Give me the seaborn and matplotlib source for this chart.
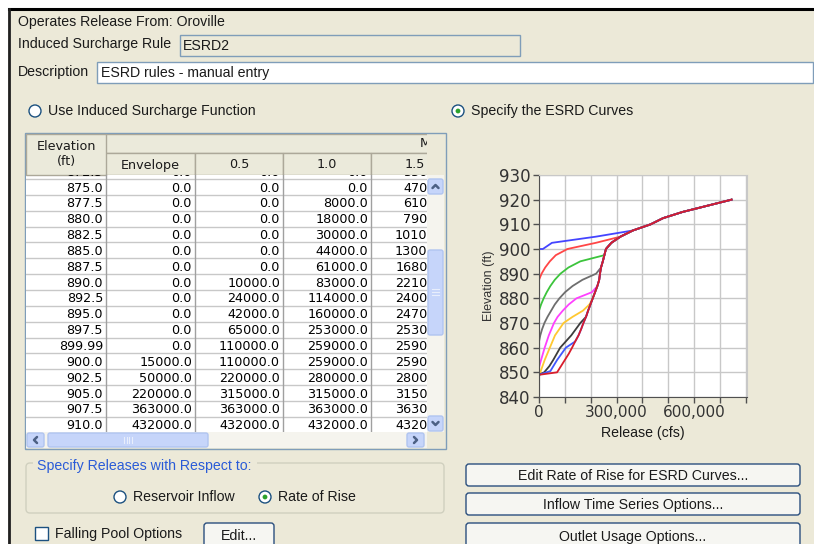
import numpy as np
import pandas as pd
import seaborn as sns
import matplotlib.pyplot as plt
import matplotlib.patches as mpatches
from matplotlib import font_manager

W, H = 814, 544
PANEL = '#ECE9D8'
INK = '#1a1a1a'

installed = {f.name for f in font_manager.fontManager.ttflist}
GUI_FONT = 'Liberation Sans' if 'Liberation Sans' in installed else 'DejaVu Sans'

# ---- ESRD curve data (elevation ft, release cfs) ----
# shared steep section that every curve ends up on
STEEP_ELEV = [850.0, 852.5, 855.0, 857.5, 860.0, 862.5, 865.0, 867.5, 870.0, 872.5,
              875.0, 877.5, 880.0, 882.5, 885.0, 887.5, 890.0, 892.5, 895.0, 897.5,
              899.99, 900.0, 902.5, 905.0, 907.5, 910.0, 912.5, 915.0, 917.5, 920.0]
STEEP_REL = [70000, 85000, 100000, 115000, 128000, 140000, 153000, 163000, 172000, 182000,
             190000, 199000, 208000, 217000, 226000, 233000, 236000, 240000, 247000, 253000,
             259000, 259000, 280000, 315000, 363000, 432000, 480000, 555000, 650000, 745000]

ENV_ELEV = [849.0, 899.99, 900.0, 902.5, 905.0]
ENV_REL = [0, 0, 15000, 50000, 220000]

R05_ELEV = [849.0, 887.5, 890.0, 892.5, 895.0, 897.5, 899.99, 900.0, 902.5]
R05_REL = [0, 0, 10000, 24000, 42000, 65000, 110000, 110000, 220000]

R10_ELEV = [849.0, 875.0, 877.5, 880.0, 882.5, 885.0, 887.5, 890.0, 892.5, 895.0]
R10_REL = [0, 0, 8000, 18000, 30000, 44000, 61000, 83000, 114000, 160000]

R15_ELEV = [849.0, 862.5, 865.0, 867.5, 870.0, 872.5, 875.0, 877.5, 880.0, 882.5, 885.0, 887.5, 890.0]
R15_REL = [0, 0, 5000, 12000, 21000, 33000, 47000, 61000, 79000, 101000, 130000, 168000, 221000]

R20_ELEV = [849.0, 852.0, 855.0, 860.0, 865.0, 870.0, 872.5, 875.0, 877.5, 880.0, 882.5]
R20_REL = [0, 0, 8000, 22000, 38000, 58000, 72000, 92000, 115000, 145000, 205000]

R25_ELEV = [849.0, 850.0, 855.0, 860.0, 865.0, 870.0, 872.5, 875.0, 877.5]
R25_REL = [0, 5000, 22000, 42000, 62000, 95000, 130000, 170000, 195000]

R30_ELEV = [849.0, 850.0, 852.5, 855.0, 860.0, 865.0, 870.0]
R30_REL = [0, 20000, 40000, 55000, 82000, 125000, 160000]

R35_ELEV = [849.0, 850.5, 855.0, 860.0]
R35_REL = [0, 44000, 70000, 104000]

R40_ELEV = [849.0]
R40_REL = [0]

CURVE_NAMES = ['Envelope', '0.5', '1.0', '1.5', '2.0', '2.5', '3.0', '3.5', '4.0']
CURVE_COLORS = ['#4444ff', '#ff4646', '#3cc43c', '#6e6e6e', '#ff40ff', '#ffc830',
                '#3c3c3c', '#4058ff', '#d81c2c']

# table rows shown in the scroll pane
TABLE_ELEV = [872.5, 875.0, 877.5, 880.0, 882.5, 885.0, 887.5, 890.0, 892.5, 895.0,
              897.5, 899.99, 900.0, 902.5, 905.0, 907.5, 910.0]


def full_curve(elev, rel):
    tail = [(s, v) for s, v in zip(STEEP_ELEV, STEEP_REL) if s > elev[-1]]
    return list(elev) + [t[0] for t in tail], list(rel) + [t[1] for t in tail]


own_parts = [(ENV_ELEV, ENV_REL), (R05_ELEV, R05_REL), (R10_ELEV, R10_REL),
             (R15_ELEV, R15_REL), (R20_ELEV, R20_REL), (R25_ELEV, R25_REL),
             (R30_ELEV, R30_REL), (R35_ELEV, R35_REL), (R40_ELEV, R40_REL)]
curves = [full_curve(e, r) for e, r in own_parts]

frames = []
for name, (e, r) in zip(CURVE_NAMES, curves):
    frames.append(pd.DataFrame({'release': r, 'elev': e, 'curve': name}))
df = pd.concat(frames, ignore_index=True)

# ---- figure ----
plt.rcParams['font.family'] = [GUI_FONT, 'DejaVu Sans']
fig = plt.figure(figsize=(W / 100, H / 100), dpi=100, facecolor=PANEL)

bg = fig.add_axes([0, 0, 1, 1])
bg.set_xlim(0, W)
bg.set_ylim(H, 0)
bg.axis('off')


def rect(x, y, w, h, fc, ec='none', lw=1.0, z=1):
    p = mpatches.Rectangle((x, y), w, h, fc=fc, ec=ec, lw=lw, zorder=z)
    bg.add_patch(p)
    return p


def label(x, y, s, size=10.2, color=INK, ha='left', family=None, clip=None, **kw):
    t = bg.text(x, y, s, fontsize=size, color=color, ha=ha, va='center',
                family=family or [GUI_FONT, 'DejaVu Sans'], **kw)
    if clip is not None:
        t.set_clip_on(True)
        t.set_clip_path(clip)
    return t


def button(x, y, w, h, s):
    bg.add_patch(mpatches.FancyBboxPatch((x, y), w, h, boxstyle='round,pad=0,rounding_size=3',
                                         fc='#F6F6F2', ec='#2B4F7E', lw=1.0, zorder=2))
    label(x + w / 2, y + h / 2 + 0.5, s, ha='center', zorder=3)


def radio(x, y, on=False):
    bg.add_patch(mpatches.Circle((x, y), 6, fc='white', ec='#1C5180', lw=1.0, zorder=2))
    if on:
        bg.add_patch(mpatches.Circle((x, y), 2.4, fc='#2BA12B', ec='none', zorder=3))


# window frame
rect(0, 0, W, 8, 'white')
rect(0, 0, 8, H, 'white')
bg.plot([9, W], [9, 9], color='black', lw=2.2, zorder=3)
bg.plot([9, 9], [9, H], color='#202020', lw=2.0, zorder=3)

# header fields
label(18, 22, 'Operates Release From: Oroville')
label(18, 44, 'Induced Surcharge Rule')
rect(180, 35, 340, 21, PANEL, ec='#7F9DB9')
label(183, 46, 'ESRD2')
label(18, 72, 'Description')
rect(97, 62, 716, 21, 'white', ec='#7F9DB9')
label(101, 73, 'ESRD rules - manual entry')

radio(35, 111)
label(48, 111, 'Use Induced Surcharge Function')
radio(458, 111, on=True)
label(471, 111, 'Specify the ESRD Curves')

# ---- table ----
TX0, TY0, TX1, TY1 = 25, 133, 446, 449
rect(TX0, TY0, TX1 - TX0, TY1 - TY0, PANEL, ec='#7F9DB9')
VIEW_TOP, VIEW_BOT, VIEW_R = 175, 432, 427
view = rect(26, VIEW_TOP, VIEW_R - 26, VIEW_BOT - VIEW_TOP, 'white')

col_edges = [26, 106, 195, 283, 371, 459]
hdr_fc = '#EBEADB'
hdr_ec = '#ACA899'
rect(26, 134, 80, 41, hdr_fc, ec=hdr_ec)
label(66, 146, 'Elevation', size=9.2, ha='center', family='DejaVu Sans')
label(66, 162, '(ft)', size=9.2, ha='center', family='DejaVu Sans')
hclip = rect(106, 134, VIEW_R - 106, 41, 'none')
top_hdr = rect(106, 134, 400, 19, hdr_fc, ec=hdr_ec)
top_hdr.set_clip_path(hclip)
label(420, 144, 'Maximum Rate of Rise (ft/day)', size=9.2, family='DejaVu Sans', clip=hclip)
for i, name in enumerate(CURVE_NAMES[:4]):
    x0, x1 = col_edges[i + 1], col_edges[i + 2]
    c = rect(x0, 153, x1 - x0, 22, hdr_fc, ec=hdr_ec)
    c.set_clip_path(hclip)
    label((x0 + x1) / 2, 165, name, size=9.2, ha='center', family='DejaVu Sans', clip=hclip)

ROW_H = 15.85
first_y = 187 - ROW_H
for k, el in enumerate(TABLE_ELEV):
    yc = first_y + k * ROW_H
    ln = bg.plot([26, VIEW_R], [yc + ROW_H / 2, yc + ROW_H / 2], color='#C8C8C8', lw=1.0, zorder=2)[0]
    ln.set_clip_path(view)
    cells = [str(el)] + [f'{np.interp(el, e, r):.1f}' for e, r in curves[:4]]
    for j, s in enumerate(cells):
        label(col_edges[j + 1] - 3, yc + 1, s, size=9.2, ha='right', family='DejaVu Sans',
              color='black', zorder=3, clip=view)
for xe in col_edges[1:5]:
    bg.plot([xe, xe], [VIEW_TOP, VIEW_BOT], color='#A0A0A0', lw=1.0, zorder=2)

# scroll bars
rect(VIEW_R, VIEW_TOP, 17, VIEW_BOT - VIEW_TOP, '#F5F4EE', z=3)


def sbtn(x, y, w, h):
    bg.add_patch(mpatches.FancyBboxPatch((x, y), w, h, boxstyle='round,pad=0,rounding_size=2',
                                         fc='#C6D5FA', ec='#B0C4F0', lw=1.0, zorder=4))


def chevron(cx, cy, direction):
    d = 3.0
    if direction == 'up':
        xs, ys = [cx - d, cx, cx + d], [cy + d / 2, cy - d / 2, cy + d / 2]
    elif direction == 'down':
        xs, ys = [cx - d, cx, cx + d], [cy - d / 2, cy + d / 2, cy - d / 2]
    elif direction == 'left':
        xs, ys = [cx + d / 2, cx - d / 2, cx + d / 2], [cy - d, cy, cy + d]
    else:
        xs, ys = [cx - d / 2, cx + d / 2, cx - d / 2], [cy - d, cy, cy + d]
    bg.plot(xs, ys, color='#4D6185', lw=1.8, solid_capstyle='round', zorder=5)


sbtn(VIEW_R + 1, 179, 15, 15)
chevron(VIEW_R + 8.5, 186.5, 'up')
sbtn(VIEW_R + 1, 416, 15, 15)
chevron(VIEW_R + 8.5, 423.5, 'down')
sbtn(VIEW_R + 1, 250, 15, 85)
for gy in (289, 292, 295):
    bg.plot([VIEW_R + 5, VIEW_R + 12], [gy, gy], color='#E8EEFC', lw=0.8, zorder=5)
rect(26, VIEW_BOT, VIEW_R - 26, 16, '#F5F4EE', z=3)
sbtn(27, VIEW_BOT + 1, 17, 14)
chevron(35.5, VIEW_BOT + 8, 'left')
sbtn(407, VIEW_BOT + 1, 17, 14)
chevron(415.5, VIEW_BOT + 8, 'right')
sbtn(48, VIEW_BOT + 1, 160, 14)
for gx in (124, 126.5, 129, 131.5):
    bg.plot([gx, gx], [VIEW_BOT + 5, VIEW_BOT + 11], color='#E8EEFC', lw=0.8, zorder=5)

# ---- bottom controls ----
bg.add_patch(mpatches.FancyBboxPatch((26, 463), 418, 50, boxstyle='round,pad=0,rounding_size=4',
                                     fc='none', ec='#D0D0BF', lw=1.0, zorder=2))
rect(33, 460, 224, 10, PANEL, z=2)
label(37, 466, 'Specify Releases with Respect to:', color='#2A5BD7', zorder=3)
radio(120, 497)
label(133, 497, 'Reservoir Inflow')
radio(265, 497, on=True)
label(278, 497, 'Rate of Rise')

rect(35, 527, 13, 13, 'white', ec='#1C5180', z=2)
label(55, 534, 'Falling Pool Options')
button(204, 523, 70, 26, 'Edit...')

button(466, 464, 334, 22, 'Edit Rate of Rise for ESRD Curves...')
button(466, 493, 334, 22, 'Inflow Time Series Options...')
button(466, 523, 334, 26, 'Outlet Usage Options...')

# ---- ESRD curve chart ----
ax = fig.add_axes([539 / W, 1 - 397 / H, 208 / W, 222 / H])
ax.set_facecolor('white')
sns.lineplot(data=df, x='release', y='elev', hue='curve', hue_order=CURVE_NAMES,
             palette=CURVE_COLORS, sort=False, estimator=None, legend=False,
             lw=1.3, ax=ax)

ax.set_xlim(0, 805000)
ax.set_ylim(840, 930)
xt = np.arange(0, 800001, 100000)
ax.set_xticks(xt)
ax.set_xticklabels([f'{v:,}' if v % 300000 == 0 else '' for v in xt],
                   fontsize=11, family='DejaVu Sans', color='#333333')
yt = np.arange(840, 931, 10)
ax.set_yticks(yt)
ax.set_yticklabels([str(v) for v in yt], fontsize=12, family='DejaVu Sans', color='#333333')
ax.grid(True, color='#C8C8C8', lw=1.0)
ax.set_axisbelow(True)
for side in ['top', 'right']:
    ax.spines[side].set_color('#C8C8C8')
for side in ['left', 'bottom']:
    ax.spines[side].set_color('#505050')
ax.tick_params(direction='out', length=4, width=1, color='#505050', pad=2)
ax.set_xlabel('Release (cfs)', fontsize=10.2, color=INK, labelpad=4)
ax.set_ylabel('Elevation (ft)', fontsize=9, color='#333333', labelpad=3)

fig.savefig('out.png', dpi=100, facecolor=PANEL)
